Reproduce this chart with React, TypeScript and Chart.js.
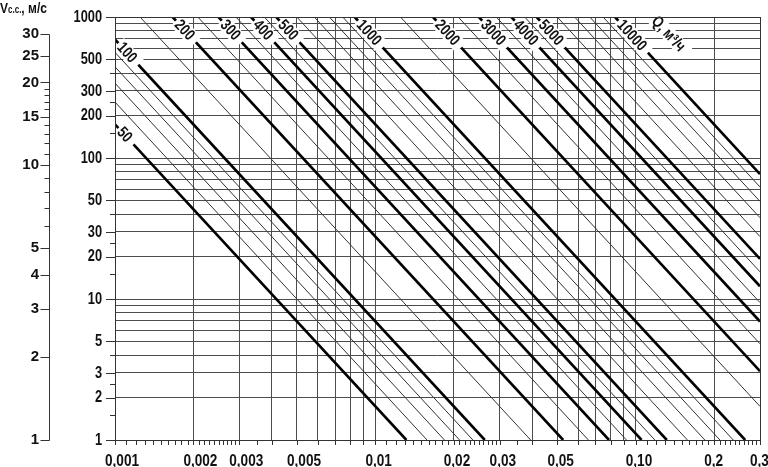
import React, { useEffect, useRef } from "react";
import { Chart, registerables } from "chart.js";

Chart.register(...registerables);

// ---- axis ranges ----
const X_MIN = 0.001;
const X_MAX = 0.3;
const Y_MIN = 1;
const Y_MAX = 1000;
const V_MIN = 1;
const V_MAX = 34.6;
// nomogram relation: y = (Q / (K * x))^2
const K = 3800;

// ---- flow lines (Q, m3/h) ----
const Q_THICK = [50, 100, 200, 300, 400, 500, 1000, 2000, 3000, 4000, 5000, 10000];
const Q_THIN = [60, 70, 80, 90, 150, 250, 350, 450, 600, 700, 800, 900, 1500, 2500, 3500, 4500, 6000, 7000, 8000, 9000];
const Q_LABELS = ["50", "100", "200", "300", "400", "500", "1000", "2000", "3000", "4000", "5000", "10000"];
const UNIT_LABEL = "Q, м³/ч";
const UNIT_LABEL_Q = 14000;

// ---- ticks ----
const GRID_MULT = [1, 2, 3, 4, 5, 6, 7, 8, 9];
const X_LABEL_VALUES = [0.001, 0.002, 0.003, 0.005, 0.01, 0.02, 0.03, 0.05, 0.1, 0.2, 0.3];
const X_LABELS = ["0,001", "0,002", "0,003", "0,005", "0,01", "0,02", "0,03", "0,05", "0,10", "0,2", "0,3"];
const X_MINOR_MULT = [1, 1.1, 1.2, 1.3, 1.4, 1.5, 1.6, 1.7, 1.8, 1.9, 2, 2.1, 2.2, 2.3, 2.4, 2.5, 2.6, 2.7, 2.8, 2.9, 3, 3.5, 4, 5, 6, 7, 8, 9];
const Y_LABEL_VALUES = [1, 2, 3, 5, 10, 20, 30, 50, 100, 200, 300, 500, 1000];
const Y_LABELS = ["1", "2", "3", "5", "10", "20", "30", "50", "100", "200", "300", "500", "1000"];
const Y_MINOR_TICKS = [1.5, 2.5, 4, 15, 25, 40, 150, 250, 400];
const V_LABEL_VALUES = [1, 2, 3, 4, 5, 10, 15, 20, 25, 30];
const V_LABELS = ["1", "2", "3", "4", "5", "10", "15", "20", "25", "30"];
const V_MINOR_TICKS = [6, 7, 8, 9, 11, 12, 13, 14, 16, 17, 18, 19];
const V_TITLE_MAIN = "V";
const V_TITLE_SUB = "с.с.";
const V_TITLE_UNIT = ", м/с";

// ---- styles ----
const FAMILY = "'Liberation Sans', Arial, sans-serif";
const NARROW_SCALE = 0.8;
const X_LABEL_SCALE = 0.85;
const GRID_COLOR = "#4c4c4c";
const THIN_COLOR = "#333333";
const THICK_COLOR = "#000000";
const TEXT_COLOR = "#111111";
const TRANSPARENT = "rgba(0,0,0,0)";

function decadeValues(min: number, max: number, mults: number[]): number[] {
  const out: number[] = [];
  const e0 = Math.floor(Math.log10(min));
  const e1 = Math.ceil(Math.log10(max));
  for (let e = e0; e <= e1; e++) {
    for (const m of mults) {
      const v = parseFloat((m * Math.pow(10, e)).toPrecision(8));
      if (v >= min * (1 - 1e-9) && v <= max * (1 + 1e-9) && out.indexOf(v) < 0) out.push(v);
    }
  }
  return out;
}

function labelFor(v: number, values: number[], labels: string[]): string {
  for (let i = 0; i < values.length; i++) {
    if (Math.abs(v - values[i]) / values[i] < 1e-6) return labels[i];
  }
  return "";
}

function lineEnds(q: number) {
  const xTop = q / (K * Math.sqrt(Y_MAX));
  const start = xTop >= X_MIN ? { x: xTop, y: Y_MAX } : { x: X_MIN, y: Math.pow(q / (K * X_MIN), 2) };
  const xBot = q / (K * Math.sqrt(Y_MIN));
  const end = xBot <= X_MAX ? { x: xBot, y: Y_MIN } : { x: X_MAX, y: Math.pow(q / (K * X_MAX), 2) };
  return [start, end];
}

const X_GRID = decadeValues(X_MIN, X_MAX, GRID_MULT);
const Y_GRID = decadeValues(Y_MIN, Y_MAX, GRID_MULT);
const X_MINOR = decadeValues(X_MIN, X_MAX, X_MINOR_MULT);

const px = (p: number) => Math.round(p) + 0.5;

// draws condensed bold text (narrow face emulated by horizontal scaling)
function narrowText(
  ctx: CanvasRenderingContext2D,
  text: string,
  x: number,
  y: number,
  size: number,
  align: CanvasTextAlign,
  baseline: CanvasTextBaseline,
  sx: number = NARROW_SCALE
): number {
  ctx.save();
  ctx.translate(x, y);
  ctx.scale(sx, 1);
  ctx.font = `bold ${size}px ${FAMILY}`;
  ctx.textAlign = align;
  ctx.textBaseline = baseline;
  ctx.fillStyle = TEXT_COLOR;
  ctx.fillText(text, 0, 0);
  const w = ctx.measureText(text).width * sx;
  ctx.restore();
  return w;
}

const nomogramPlugin = {
  id: "nomogram",
  afterDatasetsDraw(chart: any) {
    const ctx: CanvasRenderingContext2D = chart.ctx;
    const xs = chart.scales.x;
    const ys = chart.scales.y;
    const vs = chart.scales.yV;
    const area = chart.chartArea;

    const drawLabel = (q: number, text: string, dash: boolean) => {
      const [s, e] = lineEnds(q);
      const sx = xs.getPixelForValue(s.x);
      const sy = ys.getPixelForValue(s.y);
      const ex = xs.getPixelForValue(e.x);
      const ey = ys.getPixelForValue(e.y);
      const ang = Math.atan2(ey - sy, ex - sx);
      ctx.save();
      ctx.translate(sx, sy);
      ctx.rotate(ang);
      ctx.font = `bold 16px ${FAMILY}`;
      const tw = ctx.measureText(text).width * NARROW_SCALE;
      const d0 = dash ? 5 : 0;
      ctx.fillStyle = "#ffffff";
      ctx.fillRect(d0, -7.5, tw + 8, 15);
      narrowText(ctx, text, d0 + 2, 0.5, 16, "left", "middle");
      ctx.restore();
    };

    Q_THICK.forEach((q, i) => drawLabel(q, Q_LABELS[i], true));
    drawLabel(UNIT_LABEL_Q, UNIT_LABEL, false);

    ctx.save();
    // frame
    ctx.strokeStyle = "#333333";
    ctx.lineWidth = 1;
    const L = px(xs.getPixelForValue(X_MIN));
    const R = px(xs.getPixelForValue(X_MAX));
    const T = px(ys.getPixelForValue(Y_MAX));
    const B = px(ys.getPixelForValue(Y_MIN));
    ctx.strokeRect(L, T, R - L, B - T);

    ctx.beginPath();
    // y ticks
    Y_LABEL_VALUES.forEach((v) => {
      const p = px(ys.getPixelForValue(v));
      ctx.moveTo(area.left - 9, p);
      ctx.lineTo(area.left, p);
    });
    Y_MINOR_TICKS.forEach((v) => {
      const p = px(ys.getPixelForValue(v));
      ctx.moveTo(area.left - 5, p);
      ctx.lineTo(area.left, p);
    });
    // x ticks
    X_MINOR.forEach((v) => {
      const p = px(xs.getPixelForValue(v));
      ctx.moveTo(p, area.bottom);
      ctx.lineTo(p, area.bottom + 5);
    });
    // V axis
    const vx = px(vs.right);
    const vTop = px(vs.getPixelForValue(V_LABEL_VALUES[V_LABEL_VALUES.length - 1]));
    const vBot = px(vs.getPixelForValue(V_LABEL_VALUES[0]));
    ctx.moveTo(vx, vTop);
    ctx.lineTo(vx, vBot);
    V_LABEL_VALUES.forEach((v) => {
      const p = px(vs.getPixelForValue(v));
      ctx.moveTo(vx - 9, p);
      ctx.lineTo(vx, p);
    });
    V_MINOR_TICKS.forEach((v) => {
      const p = px(vs.getPixelForValue(v));
      ctx.moveTo(vx - 5, p);
      ctx.lineTo(vx, p);
    });
    ctx.stroke();
    ctx.restore();

    // x tick labels
    X_LABEL_VALUES.forEach((v, i) => {
      narrowText(ctx, X_LABELS[i], xs.getPixelForValue(v) - 10, area.bottom + 26, 16, "left", "alphabetic", X_LABEL_SCALE);
    });
    // y tick labels
    Y_LABEL_VALUES.forEach((v, i) => {
      narrowText(ctx, Y_LABELS[i], area.left - 13, ys.getPixelForValue(v) + 0.5, 16, "right", "middle");
    });

    // V title
    let tx = 0;
    tx += narrowText(ctx, V_TITLE_MAIN, tx, 13, 15, "left", "alphabetic");
    tx += narrowText(ctx, V_TITLE_SUB, tx, 13, 10, "left", "alphabetic");
    narrowText(ctx, V_TITLE_UNIT, tx, 13, 15, "left", "alphabetic");
  },
};

export default function App() {
  const ref = useRef<HTMLCanvasElement | null>(null);

  useEffect(() => {
    if (!ref.current) return;
    const mk = (q: number, thick: boolean) => ({
      label: String(q),
      data: lineEnds(q),
      showLine: true,
      borderColor: thick ? THICK_COLOR : THIN_COLOR,
      borderWidth: thick ? 2.6 : 1,
      pointRadius: 0,
      pointHoverRadius: 0,
      fill: false,
      tension: 0,
    });
    const datasets = [...Q_THIN.map((q) => mk(q, false)), ...Q_THICK.map((q) => mk(q, true))];

    const chart = new Chart(ref.current, {
      type: "scatter",
      data: { datasets },
      plugins: [nomogramPlugin],
      options: {
        animation: false,
        responsive: true,
        maintainAspectRatio: false,
        layout: { padding: { top: 17, right: 8, bottom: 0, left: 0 } },
        plugins: { legend: { display: false }, tooltip: { enabled: false } },
        events: [],
        scales: {
          x: {
            type: "logarithmic",
            min: X_MIN,
            max: X_MAX,
            position: "bottom",
            afterBuildTicks: (s: any) => {
              s.ticks = X_GRID.map((v) => ({ value: v }));
            },
            afterFit: (s: any) => {
              s.height = 27;
              s.paddingLeft = 0;
              s.paddingRight = 0;
            },
            grid: { color: GRID_COLOR, lineWidth: 1, drawTicks: false },
            border: { display: false },
            ticks: { display: false },
          },
          y: {
            type: "logarithmic",
            min: Y_MIN,
            max: Y_MAX,
            position: "left",
            weight: 0,
            afterBuildTicks: (s: any) => {
              s.ticks = Y_GRID.map((v) => ({ value: v }));
            },
            afterFit: (s: any) => {
              s.width = 66;
              s.paddingTop = 0;
              s.paddingBottom = 0;
            },
            grid: { color: GRID_COLOR, lineWidth: 1, drawTicks: false },
            border: { display: false },
            ticks: { display: false },
          },
          yV: {
            type: "logarithmic",
            min: V_MIN,
            max: V_MAX,
            position: "left",
            weight: 1,
            afterBuildTicks: (s: any) => {
              s.ticks = V_LABEL_VALUES.map((v) => ({ value: v }));
            },
            afterFit: (s: any) => {
              s.width = 49;
              s.paddingTop = 0;
              s.paddingBottom = 0;
            },
            grid: { drawOnChartArea: false, drawTicks: true, tickLength: 9, tickColor: TRANSPARENT, color: TRANSPARENT },
            border: { display: false },
            ticks: {
              autoSkip: false,
              padding: 1,
              color: TEXT_COLOR,
              font: { family: FAMILY, size: 15, weight: "bold" as const },
              callback: (v: any) => labelFor(Number(v), V_LABEL_VALUES, V_LABELS),
            },
          },
        },
      } as any,
    });
    return () => chart.destroy();
  }, []);

  return (
    <div style={{ position: "fixed", left: 0, top: 0, width: 768, height: 467, background: "#ffffff" }}>
      <canvas ref={ref} />
    </div>
  );
}
